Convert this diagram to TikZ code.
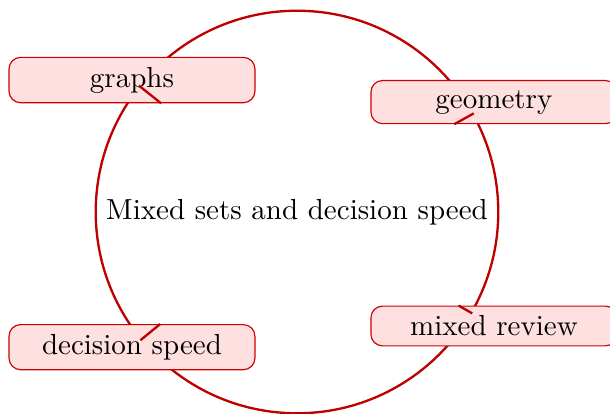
\documentclass[tikz,border=0pt]{standalone}
\begin{document}
\begin{tikzpicture}[thick,
    hub/.style={circle, draw=red!75!black},
    topic/.style={draw=red!80!black, thin, fill=red!12, rounded corners, minimum width=84.8pt},
    link/.style={red!75!black}]

    \useasboundingbox (-102.41pt,-69.31pt) rectangle (107.93pt,73.10pt);

    % centre
    \node[hub] (hub) at (0,0) {Mixed sets and decision speed};

    % themes
    \node[topic] (graphs) at (-56.9pt,45.5pt) {graphs};
    \node[topic] (geometry) at (67.9pt,37.9pt) {geometry};
    \node[topic] (decision) at (-56.9pt,-46.6pt) {decision speed};
    \node[topic] (mixed) at (67.9pt,-39.3pt) {mixed review};

    % liens
    \draw[link] (hub) -- (graphs);
    \draw[link] (hub) -- (geometry);
    \draw[link] (hub) -- (decision);
    \draw[link] (hub) -- (mixed);

\end{tikzpicture}
\end{document}
